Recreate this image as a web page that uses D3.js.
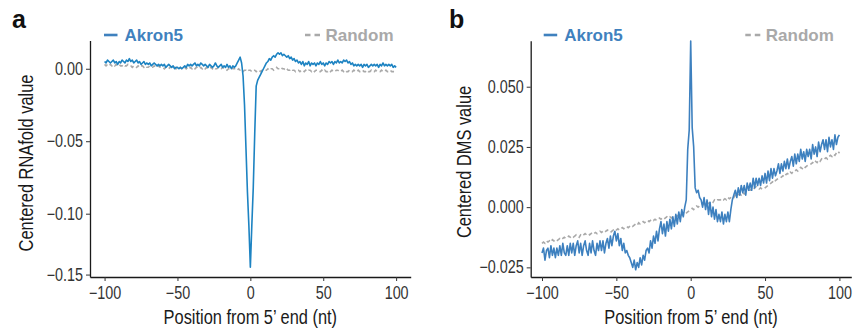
<!DOCTYPE html>
<html><head><meta charset="utf-8">
<script src="https://cdn.jsdelivr.net/npm/d3@7"></script>
<style>
html,body{margin:0;padding:0;background:#fff;}
svg text{font-family:"Liberation Sans",Arial,sans-serif;}
</style></head>
<body><svg id="c" width="856" height="334"></svg>
<script>
const positions = [-100,-99,-98,-97,-96,-95,-94,-93,-92,-91,-90,-89,-88,-87,-86,-85,-84,-83,-82,-81,-80,-79,-78,-77,-76,-75,-74,-73,-72,-71,-70,-69,-68,-67,-66,-65,-64,-63,-62,-61,-60,-59,-58,-57,-56,-55,-54,-53,-52,-51,-50,-49,-48,-47,-46,-45,-44,-43,-42,-41,-40,-39,-38,-37,-36,-35,-34,-33,-32,-31,-30,-29,-28,-27,-26,-25,-24,-23,-22,-21,-20,-19,-18,-17,-16,-15,-14,-13,-12,-11,-10,-9,-8,-7,-6,-5,-4,-3,-2,-1,0,1,2,3,4,5,6,7,8,9,10,11,12,13,14,15,16,17,18,19,20,21,22,23,24,25,26,27,28,29,30,31,32,33,34,35,36,37,38,39,40,41,42,43,44,45,46,47,48,49,50,51,52,53,54,55,56,57,58,59,60,61,62,63,64,65,66,67,68,69,70,71,72,73,74,75,76,77,78,79,80,81,82,83,84,85,86,87,88,89,90,91,92,93,94,95,96,97,98,99,100];

// Panel a: centered RNAfold value
const akronA = [
0.005,0.004,0.006,0.005,0.004,0.005,0.006,0.004,0.005,0.003,
0.005,0.004,0.006,0.005,0.004,0.006,0.005,0.007,0.005,0.006,
0.004,0.005,0.006,0.004,0.005,0.003,0.004,0.005,0.003,0.004,
0.003,0.004,0.002,0.003,0.004,0.003,0.002,0.003,0.002,0.003,
0.002,0.003,0.001,0.002,0.003,0.002,0.001,0.002,0.000,0.001,
0.001,0.000,0.001,0.000,0.001,0.002,0.001,0.003,0.002,0.003,
0.002,0.003,0.004,0.002,0.003,0.002,0.004,0.003,0.002,0.003,
0.002,0.001,0.003,0.002,0.001,0.002,0.004,0.002,0.001,0.002,
0.003,0.001,0.002,0.001,0.003,0.001,0.002,0.000,0.002,0.001,
0.002,0.004,0.006,0.008,0.004,-0.005,-0.025,-0.055,-0.085,-0.110,
-0.144,-0.110,-0.082,-0.045,-0.012,-0.008,-0.006,-0.004,-0.002,0.000,
0.002,0.004,0.005,0.007,0.006,0.008,0.009,0.008,0.010,0.011,
0.010,0.011,0.009,0.010,0.009,0.008,0.009,0.007,0.008,0.006,
0.007,0.005,0.006,0.004,0.005,0.003,0.005,0.002,0.004,0.003,
0.005,0.002,0.004,0.003,0.004,0.002,0.004,0.003,0.005,0.003,
0.004,0.002,0.004,0.003,0.005,0.004,0.005,0.003,0.005,0.004,
0.006,0.004,0.005,0.004,0.006,0.005,0.006,0.004,0.005,0.003,
0.004,0.002,0.003,0.002,0.003,0.002,0.003,0.001,0.003,0.002,
0.003,0.001,0.002,0.003,0.002,0.003,0.002,0.003,0.001,0.003,
0.002,0.004,0.002,0.003,0.002,0.003,0.002,0.003,0.001,0.002,
0.001];

const randomA = [
0.003,0.002,0.003,0.002,0.003,0.002,0.003,0.002,0.003,0.002,
0.003,0.002,0.002,0.003,0.002,0.002,0.003,0.002,0.002,0.001,
0.002,0.002,0.001,0.002,0.001,0.002,0.002,0.001,0.002,0.001,
0.001,0.002,0.001,0.001,0.002,0.001,0.001,0.002,0.001,0.001,
0.001,0.000,0.001,0.001,0.000,0.001,0.001,0.000,0.001,0.000,
0.001,0.000,0.001,0.000,0.000,0.001,0.000,0.001,0.000,0.001,
0.000,0.001,0.000,0.001,0.001,0.000,0.001,0.000,0.001,0.000,
0.001,0.000,0.000,0.001,0.000,0.001,0.000,0.000,0.001,0.000,
0.000,0.001,0.000,0.000,-0.001,0.000,0.000,0.001,0.000,0.000,
0.000,-0.001,0.000,-0.001,-0.001,-0.002,-0.001,-0.001,-0.002,-0.001,
-0.001,-0.002,-0.001,-0.001,-0.002,-0.001,-0.001,-0.002,-0.001,-0.001,
-0.001,-0.001,0.000,-0.001,0.000,0.000,-0.001,0.000,0.001,0.000,
0.000,0.001,0.000,0.000,-0.001,0.000,-0.001,-0.001,0.000,-0.001,
-0.001,-0.002,-0.001,-0.001,-0.002,-0.001,-0.001,-0.002,-0.001,-0.002,
-0.001,-0.001,-0.002,-0.001,-0.002,-0.001,-0.001,-0.002,-0.002,-0.001,
-0.002,-0.001,-0.002,-0.002,-0.001,-0.002,-0.001,-0.002,-0.002,-0.001,
-0.001,-0.002,-0.002,-0.001,-0.002,-0.001,-0.002,-0.002,-0.001,-0.002,
-0.002,-0.001,-0.002,-0.002,-0.001,-0.002,-0.002,-0.001,-0.002,-0.002,
-0.001,-0.002,-0.002,-0.001,-0.002,-0.002,-0.001,-0.002,-0.002,-0.002,
-0.001,-0.002,-0.002,-0.001,-0.002,-0.002,-0.001,-0.002,-0.002,-0.002,
-0.002];

// Panel b: centered DMS value
const akronB = [
-0.019,-0.017,-0.022,-0.018,-0.017,-0.021,-0.016,-0.020,-0.017,-0.021,
-0.017,-0.020,-0.016,-0.020,-0.015,-0.019,-0.020,-0.016,-0.020,-0.015,
-0.019,-0.015,-0.020,-0.016,-0.014,-0.019,-0.015,-0.020,-0.016,-0.014,
-0.018,-0.020,-0.015,-0.019,-0.014,-0.018,-0.020,-0.015,-0.018,-0.014,
-0.018,-0.014,-0.019,-0.015,-0.013,-0.017,-0.012,-0.016,-0.012,-0.010,
-0.014,-0.011,-0.016,-0.013,-0.018,-0.015,-0.019,-0.018,-0.020,-0.021,
-0.023,-0.025,-0.022,-0.026,-0.023,-0.025,-0.021,-0.024,-0.020,-0.022,
-0.018,-0.017,-0.019,-0.014,-0.017,-0.012,-0.015,-0.010,-0.014,-0.009,
-0.006,-0.011,-0.007,-0.012,-0.006,-0.010,-0.005,-0.009,-0.004,-0.008,
-0.003,-0.007,-0.002,-0.006,-0.001,-0.004,0.000,0.003,0.024,0.032,
0.069,0.033,0.025,0.008,0.006,0.007,0.004,0.003,0.000,0.004,
-0.001,0.003,-0.003,0.002,-0.004,0.000,-0.005,-0.001,-0.006,-0.003,
-0.006,-0.002,-0.007,-0.003,-0.006,-0.002,-0.006,-0.001,0.003,0.005,
0.007,0.004,0.008,0.005,0.009,0.006,0.009,0.005,0.010,0.007,
0.010,0.007,0.012,0.008,0.012,0.009,0.012,0.009,0.013,0.010,
0.014,0.010,0.015,0.011,0.016,0.012,0.016,0.013,0.015,0.018,
0.014,0.018,0.015,0.019,0.016,0.020,0.016,0.019,0.021,0.017,
0.022,0.018,0.022,0.019,0.024,0.020,0.023,0.019,0.024,0.021,
0.024,0.020,0.026,0.022,0.025,0.021,0.027,0.023,0.026,0.028,
0.024,0.028,0.023,0.029,0.025,0.028,0.024,0.030,0.026,0.029,
0.030];

const randomB = [
-0.0150,-0.0145,-0.0150,-0.0140,-0.0145,-0.0140,-0.0145,-0.0135,-0.0140,-0.0135,
-0.0140,-0.0135,-0.0130,-0.0135,-0.0130,-0.0125,-0.0130,-0.0125,-0.0120,-0.0125,
-0.0120,-0.0125,-0.0120,-0.0115,-0.0120,-0.0125,-0.0115,-0.0120,-0.0115,-0.0110,
-0.0115,-0.0110,-0.0115,-0.0110,-0.0105,-0.0110,-0.0105,-0.0110,-0.0105,-0.0100,
-0.0105,-0.0100,-0.0105,-0.0100,-0.0095,-0.0100,-0.0105,-0.0100,-0.0095,-0.0100,
-0.0095,-0.0090,-0.0095,-0.0090,-0.0085,-0.0090,-0.0085,-0.0080,-0.0085,-0.0080,
-0.0075,-0.0080,-0.0075,-0.0070,-0.0075,-0.0065,-0.0070,-0.0065,-0.0060,-0.0065,
-0.0060,-0.0055,-0.0060,-0.0055,-0.0050,-0.0055,-0.0050,-0.0055,-0.0050,-0.0045,
-0.0050,-0.0045,-0.0050,-0.0045,-0.0040,-0.0045,-0.0040,-0.0045,-0.0040,-0.0035,
-0.0040,-0.0035,-0.0040,-0.0035,-0.0030,-0.0035,-0.0030,-0.0025,-0.0020,-0.0015,
-0.0010,-0.0005,-0.0010,0.0000,0.0005,0.0000,0.0005,0.0010,0.0015,0.0010,
0.0015,0.0020,0.0015,0.0020,0.0025,0.0020,0.0030,0.0025,0.0030,0.0030,
0.0030,0.0035,0.0030,0.0035,0.0030,0.0040,0.0035,0.0040,0.0045,0.0040,
0.0050,0.0045,0.0050,0.0055,0.0050,0.0060,0.0055,0.0060,0.0065,0.0070,
0.0070,0.0075,0.0070,0.0080,0.0085,0.0080,0.0075,0.0080,0.0075,0.0075,
0.0080,0.0085,0.0090,0.0095,0.0100,0.0105,0.0100,0.0110,0.0115,0.0120,
0.0120,0.0125,0.0130,0.0125,0.0135,0.0140,0.0135,0.0145,0.0140,0.0150,
0.0150,0.0155,0.0150,0.0160,0.0165,0.0160,0.0170,0.0165,0.0170,0.0175,
0.0175,0.0180,0.0185,0.0180,0.0190,0.0185,0.0195,0.0190,0.0200,0.0195,
0.0200,0.0205,0.0200,0.0210,0.0215,0.0210,0.0220,0.0215,0.0225,0.0220,
0.0230];

const xTicks = [-100,-50,0,50,100];
const yTicksA = [-0.15,-0.10,-0.05,0.00];
const yTicksB = [-0.025,0.000,0.025,0.050];
const seriesNames = ["Akron5","Random"];

const svg = d3.select("#c");
const AX = "#1a1a1a", TXT = "#333333";
const colA = "#1d83c2", colB = "#3d80bf", legCol = "#3f81be", randCol = "#a9a9a9";

// emulate a narrow (condensed) sans face by compressing glyphs horizontally
function condense(sel, k){
  sel.each(function(){
    const w = this.getComputedTextLength();
    d3.select(this).attr("textLength", w*k).attr("lengthAdjust","spacingAndGlyphs");
  });
}

function panel(cfg){
  const g = svg.append("g");
  const x = cfg.x, y = cfg.y;
  const xAxis = d3.axisBottom(x).tickValues(xTicks).tickFormat(d3.format("d")).tickSize(4).tickSizeOuter(0).tickPadding(6);
  const yAxis = d3.axisLeft(y).tickValues(cfg.yTicks).tickFormat(d3.format(cfg.fmt)).tickSize(4).tickSizeOuter(0).tickPadding(3);
  const gx = g.append("g").attr("transform",`translate(0,${y.range()[0]})`).call(xAxis);
  const gy = g.append("g").attr("transform",`translate(${x.range()[0]},0)`).call(yAxis);
  [gx,gy].forEach(a=>{
    a.select(".domain").attr("stroke",AX).attr("stroke-width",1.3);
    a.selectAll(".tick line").attr("stroke","#333").attr("stroke-width",1);
    a.selectAll(".tick text").attr("fill",TXT).attr("font-family",null).attr("font-size",null)
      .style("font-size","17.5px").call(condense,0.82);
  });
  const line = d3.line().x((d,i)=>x(positions[i])).y(d=>y(d));
  g.append("path").datum(cfg.rand).attr("fill","none").attr("stroke",randCol)
    .attr("stroke-width",1.6).attr("stroke-dasharray","4,3").attr("d",line);
  g.append("path").datum(cfg.akron).attr("fill","none").attr("stroke",cfg.col)
    .attr("stroke-width",1.6).attr("stroke-linejoin","round").attr("d",line);
  // axis titles
  const xr = x.range();
  g.append("text").attr("x",(xr[0]+xr[1])/2).attr("y",324).attr("text-anchor","middle")
    .attr("fill","#1a1a1a").style("font-size","20px").text("Position from 5\u2019 end (nt)").call(condense,0.82);
  g.append("text").attr("transform",`translate(${cfg.ytx},${cfg.yty}) rotate(-90)`).attr("text-anchor","middle")
    .attr("fill","#1a1a1a").style("font-size","20px").text(cfg.ytitle).call(condense,0.82);
  // panel letter
  g.append("text").attr("x",cfg.lx).attr("y",28).attr("fill","#111")
    .style("font-weight","bold").style("font-size","25px").text(cfg.letter);
  // legend
  const L = cfg.leg;
  g.append("line").attr("x1",L.a0).attr("x2",L.a0+13.5).attr("y1",35).attr("y2",35).attr("stroke",legCol).attr("stroke-width",2.6);
  g.append("text").attr("x",L.a0+20.5).attr("y",40.7).attr("fill",legCol)
    .style("font-weight","bold").style("font-size","17px").text(seriesNames[0]);
  g.append("line").attr("x1",L.r0).attr("x2",L.r0+15).attr("y1",35).attr("y2",35).attr("stroke",randCol).attr("stroke-width",2.6).attr("stroke-dasharray","5.5,4");
  g.append("text").attr("x",L.r0+20.5).attr("y",40.7).attr("fill",randCol)
    .style("font-weight","bold").style("font-size","17px").text(seriesNames[1]);
}

panel({
  x: d3.scaleLinear().domain([-110,110]).range([90,410.7]),
  y: d3.scaleLinear().domain([-0.152,-0.10,0.0195]).range([277,213.7,40.5]),
  yTicks: yTicksA, fmt: ".2f", akron: akronA, rand: randomA, col: colA,
  ytitle: "Centered RNAfold value", ytx: 33, yty: 163, letter: "a", lx: 12,
  leg: {a0: 104, r0: 305}
});
panel({
  x: d3.scaleLinear().domain([-107.6,108]).range([530.7,851.3]),
  y: d3.scaleLinear().domain([-0.029,0.0691]).range([277,40.7]),
  yTicks: yTicksB, fmt: ".3f", akron: akronB, rand: randomB, col: colB,
  ytitle: "Centered DMS value", ytx: 471, yty: 162, letter: "b", lx: 449,
  leg: {a0: 543.7, r0: 745.3}
});
</script></body></html>
